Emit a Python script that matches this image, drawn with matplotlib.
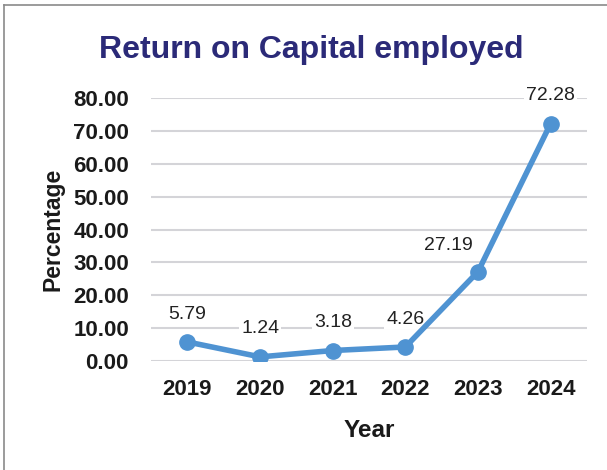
import matplotlib.pyplot as plt

years = ["2019", "2020", "2021", "2022", "2023", "2024"]
roce = [5.79, 1.24, 3.18, 4.26, 27.19, 72.28]
yticks = [0, 10, 20, 30, 40, 50, 60, 70, 80]

plt.rcParams['font.family'] = ['Liberation Sans', 'DejaVu Sans']

fig = plt.figure(figsize=(6.07, 4.70), dpi=100)
ax = fig.add_axes([0.249, 0.232, 0.718, 0.559])

xs = list(range(len(years)))
ax.plot(xs, roce, color="#4f93d2", linewidth=4, marker="o", markersize=11,
        solid_capstyle="round", zorder=3)

for x, v in zip(xs, roce):
    if x == 4:
        # steep segment: put the label to the left so it clears the line
        off, ha = (-4, 13), "right"
    else:
        off, ha = (0, 14), "center"
    ax.annotate(f"{v:.2f}", (x, v), xytext=off, textcoords="offset points",
                ha=ha, va="bottom", fontsize=14, color="#222222",
                bbox=dict(boxstyle="square,pad=0.1", fc="white", ec="none"),
                zorder=2.5)

ax.set_xlim(-0.5, 5.5)
ax.set_ylim(0, 80)
ax.set_xticks(xs)
ax.set_xticklabels(years, fontsize=16, fontweight="bold", color="#1a1a1a")
ax.set_yticks(yticks)
ax.set_yticklabels([f"{t:.2f}" for t in yticks], fontsize=16,
                   fontweight="bold", color="#1a1a1a")
ax.tick_params(length=0, pad=16)
ax.tick_params(axis="x", pad=13)
ax.grid(axis="y", color="#d4d4d8", linewidth=1.5, zorder=0)
ax.set_axisbelow(True)
for s in ax.spines.values():
    s.set_visible(False)

ax.set_xlabel("Year", fontsize=17.5, fontweight="bold", color="#1a1a1a", labelpad=14)
ax.set_ylabel("Percentage", fontsize=16.5, fontweight="bold", color="#1a1a1a", labelpad=6)

fig.text(0.512, 0.894, "Return on Capital employed", ha="center", va="center",
         fontsize=23, fontweight="bold", color="#2b2a78")

# thin grey frame on top and left
fig.add_artist(plt.Line2D([0.007, 0.007], [0.0, 0.989], color="#8a8a8a", linewidth=1.2))
fig.add_artist(plt.Line2D([0.007, 1.0], [0.989, 0.989], color="#8a8a8a", linewidth=1.2))

fig.savefig("out.png", dpi=100)
